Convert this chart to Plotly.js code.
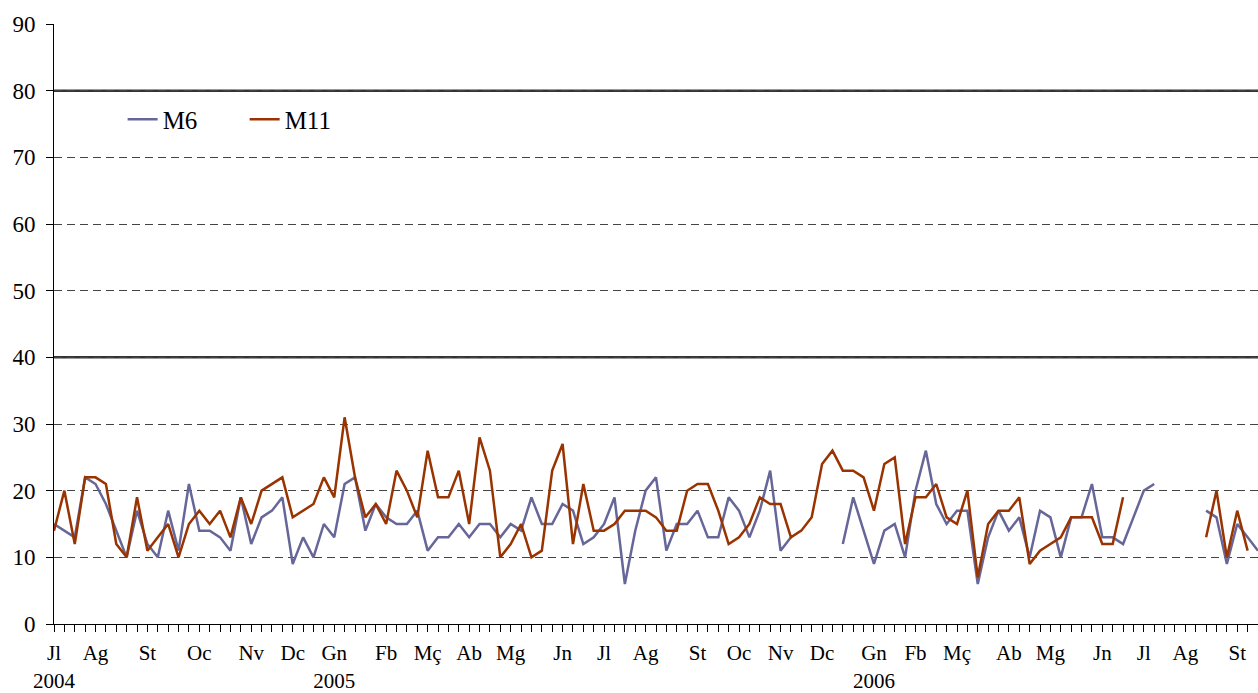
<!DOCTYPE html>
<html>
<head>
<meta charset="utf-8">
<script src="https://cdn.plot.ly/plotly-3.0.1.min.js"></script>
<style>html,body{margin:0;padding:0;background:#fff;}#chart{width:1258px;height:693px;}</style>
</head>
<body>
<div id="chart"></div>
<script>
// Weekly readings, week index 0 = first week of July 2004
const m6 = [15,14,13,22,21,18,14,10,17,12,10,17,11,21,14,14,13,11,19,12,16,17,19,9,13,10,15,13,21,22,14,18,16,15,15,17,11,13,13,15,13,15,15,13,15,14,19,15,15,18,17,12,13,15,19,6,14,20,22,11,15,15,17,13,13,19,17,13,17,23,11,13,null,null,null,null,12,19,14,9,14,15,10,20,26,18,15,17,17,6,13,17,14,16,10,17,16,10,16,16,21,13,13,12,16,20,21,null,null,null,null,17,16,9,15,13,11];
const m11 = [14,20,12,22,22,21,12,10,19,11,13,15,10,15,17,15,17,13,19,15,20,21,22,16,17,18,22,19,31,22,16,18,15,23,20,16,26,19,19,23,15,28,23,10,12,15,10,11,23,27,12,21,14,14,15,17,17,17,16,14,14,20,21,21,17,12,13,15,19,18,18,13,14,16,24,26,23,23,22,17,24,25,12,19,19,21,16,15,20,7,15,17,17,19,9,11,12,13,16,16,16,12,12,19,null,null,null,null,null,null,null,13,20,10,17,11,null];
const monthTickIdx = [0,4,9,14,19,23,27,32,36,40,44,49,53,57,62,66,70,74,79,83,87,92,96,101,105,109,114];
const monthTickText = ['Jl<br>2004','Ag','St','Oc','Nv','Dc','Gn<br>2005','Fb','Mç','Ab','Mg','Jn','Jl','Ag','St','Oc','Nv','Dc','Gn<br>2006','Fb','Mç','Ab','Mg','Jn','Jl','Ag','St'];
const yTicks = [0,10,20,30,40,50,60,70,80,90];
const thresholds = [40, 80];

const weeks = m6.map((_, i) => i);
const font = '"Liberation Serif", "Times New Roman", serif';

const traces = [
  {x: weeks, y: m6, name: 'M6', type: 'scatter', mode: 'lines', line: {color: '#666699', width: 2.5}, connectgaps: false},
  {x: weeks, y: m11, name: 'M11', type: 'scatter', mode: 'lines', line: {color: '#993300', width: 2.5}, connectgaps: false}
];

const layout = {
  width: 1258, height: 693,
  margin: {l: 54, r: 0, t: 24, b: 69},
  paper_bgcolor: '#fff', plot_bgcolor: '#fff',
  font: {family: font, color: '#000'},
  showlegend: true,
  legend: {orientation: 'h', x: 0.057, y: 0.879, xanchor: 'left', yanchor: 'top', entrywidth: 77, font: {size: 25, family: font, color: '#000'}, bgcolor: 'rgba(0,0,0,0)'},
  xaxis: {
    range: [0, 116], showgrid: false, zeroline: false,
    showline: true, linecolor: '#000', linewidth: 1,
    tickmode: 'array', tickvals: monthTickIdx, ticktext: monthTickText,
    ticks: 'outside', ticklen: 7, tickcolor: '#000', tickwidth: 1,
    tickfont: {size: 21, family: font}, tickangle: 0, ticklabelstandoff: 3,
    minor: {tickmode: 'linear', tick0: 0, dtick: 1, ticks: 'outside', ticklen: 7, tickcolor: '#000', tickwidth: 1, showgrid: false}
  },
  yaxis: {
    range: [0, 90], tickmode: 'array', tickvals: yTicks,
    showgrid: true, gridcolor: '#444', gridwidth: 1, griddash: '8px,5px',
    zeroline: false, showline: true, linecolor: '#000', linewidth: 1,
    ticks: 'outside', ticklen: 7, tickcolor: '#000',
    tickfont: {size: 23, family: font}, ticklabelstandoff: 6
  },
  shapes: thresholds.map(v => ({type: 'line', xref: 'paper', x0: 0, x1: 1, yref: 'y', y0: v, y1: v, line: {color: '#333', width: 2.5}, layer: 'below'}))
};

Plotly.newPlot('chart', traces, layout, {displayModeBar: false, staticPlot: true});
</script>
</body>
</html>
